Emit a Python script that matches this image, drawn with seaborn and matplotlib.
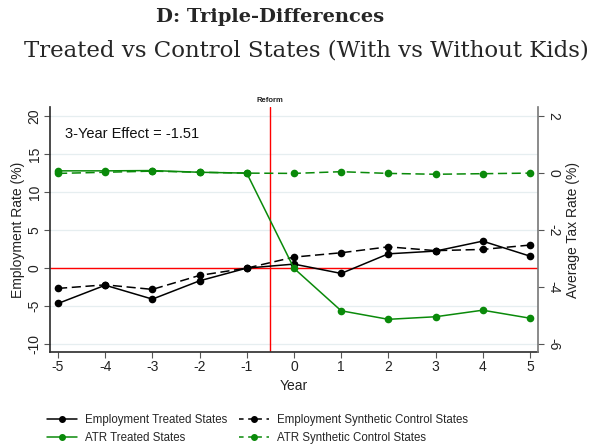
import matplotlib
matplotlib.use("Agg")
import matplotlib.pyplot as plt
from matplotlib.lines import Line2D
import seaborn as sns
import pandas as pd

years = [-5, -4, -3, -2, -1, 0, 1, 2, 3, 4, 5]
emp_treated = [-4.65, -2.25, -4.08, -1.67, 0.0, 0.53, -0.70, 1.88, 2.24, 3.55, 1.58]
emp_synth = [-2.67, -2.20, -2.80, -0.96, 0.0, 1.45, 2.02, 2.80, 2.30, 2.46, 3.03]
atr_treated = [0.08, 0.08, 0.09, 0.03, 0.0, -3.34, -4.83, -5.13, -5.04, -4.81, -5.09]
atr_synth = [-0.01, 0.03, 0.07, 0.03, 0.0, -0.01, 0.05, -0.01, -0.04, -0.02, 0.0]
left_ticks = [-10, -5, 0, 5, 10, 15, 20]
right_ticks = [-6, -4, -2, 0, 2]
effect_text = "3-Year Effect = -1.51"

sns.set_theme(style="white")
plt.rcParams['font.family'] = ['Liberation Sans', 'DejaVu Sans']

df = pd.DataFrame({"year": years, "emp_t": emp_treated, "emp_s": emp_synth,
                   "atr_t": atr_treated, "atr_s": atr_synth})

fig = plt.figure(figsize=(5.99, 4.44), dpi=100)
ax = fig.add_axes([0.0835, 0.207, 0.8145, 0.552])
ax2 = ax.twinx()

GREEN = "#0a8a0a"
ax.set_xlim(-5.17, 5.17)
ax.set_ylim(-11.05, 21.2)
ax2.set_ylim(-6.28, 2.32)

for t in left_ticks:
    ax.axhline(t, color="#e6eef0", lw=0.9, zorder=0)

ax.axhline(0, color="red", lw=1.0, zorder=1)
ax.axvline(-0.5, color="red", lw=1.0, zorder=1)

sns.lineplot(data=df, x="year", y="emp_t", ax=ax, color="black", lw=1.1,
             marker="o", markersize=5.5, markeredgewidth=0, zorder=3)
sns.lineplot(data=df, x="year", y="emp_s", ax=ax, color="black", lw=1.1,
             marker="o", markersize=5.5, markeredgewidth=0, linestyle=(0, (6, 3)), zorder=3)
sns.lineplot(data=df, x="year", y="atr_t", ax=ax2, color=GREEN, lw=1.1,
             marker="o", markersize=5.5, markeredgewidth=0, zorder=3)
sns.lineplot(data=df, x="year", y="atr_s", ax=ax2, color=GREEN, lw=1.1,
             marker="o", markersize=5.5, markeredgewidth=0, linestyle=(0, (6, 3)), zorder=3)

ax.set_xticks(years)
ax.set_xticklabels([str(y) for y in years])
ax.set_yticks(left_ticks)
ax.set_yticklabels([str(t) for t in left_ticks], rotation=90, va="center")
ax2.set_yticks(right_ticks)
ax2.set_yticklabels([str(t) for t in right_ticks], rotation=270, va="center")

ax.set_xlabel("Year", fontsize=10, color="#222222", labelpad=3)
ax.set_ylabel("Employment Rate (%)", fontsize=10, color="#222222", labelpad=2)
ax2.set_ylabel("Average Tax Rate (%)", fontsize=10, color="#222222", rotation=90, labelpad=4)

for a in (ax, ax2):
    a.tick_params(axis="both", which="major", length=4, width=0.8, color="#555555",
                  labelsize=10, labelcolor="#222222", direction="out", pad=2)
    a.spines["top"].set_visible(False)
ax.tick_params(axis="y", left=True)
ax.tick_params(axis="x", bottom=True)
ax2.tick_params(axis="y", right=True)
ax.spines["left"].set_color("#333333")
ax.spines["bottom"].set_color("#333333")
ax2.spines["right"].set_color("#777777")
ax2.spines["right"].set_linewidth(1.2)
ax.spines["right"].set_visible(False)
ax2.spines["left"].set_visible(False)
ax2.spines["bottom"].set_visible(False)

ax.text(-4.85, 17.7, effect_text, fontsize=10.5, color="#111111", va="center")
ax.text(-0.5, 1.012, "Reform", transform=ax.get_xaxis_transform(), fontsize=5.5,
        fontweight="bold", ha="center", va="bottom", color="#222222")

fig.text(0.451, 0.962, "D: Triple-Differences", ha="center", va="center",
         fontsize=14, fontweight="bold", family=["DejaVu Serif"])
fig.text(0.512, 0.886, "Treated vs Control States (With vs Without Kids)", ha="center",
         va="center", fontsize=16.5, family=["DejaVu Serif"])

handles = [
    Line2D([], [], color="black", lw=1.1, marker="o", markersize=4),
    Line2D([], [], color=GREEN, lw=1.1, marker="o", markersize=4),
    Line2D([], [], color="black", lw=1.1, marker="o", markersize=4, linestyle=(0, (3, 3))),
    Line2D([], [], color=GREEN, lw=1.1, marker="o", markersize=4, linestyle=(0, (3, 3))),
]
labels = ["Employment Treated States", "ATR Treated States",
          "Employment Synthetic Control States", "ATR Synthetic Control States"]
fig.legend(handles, labels, ncol=2, loc="center", bbox_to_anchor=(0.43, 0.033),
           frameon=False, fontsize=8.3, handlelength=2.6, columnspacing=1.0,
           labelspacing=0.5, handletextpad=0.7)

fig.savefig("out.png", dpi=100)
